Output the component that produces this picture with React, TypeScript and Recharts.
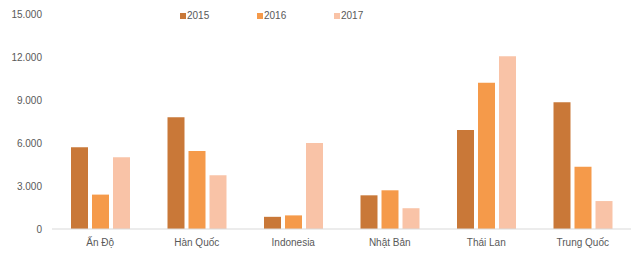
import React from "react";
import { BarChart, Bar, XAxis, YAxis } from "recharts";

const categories = ["Ấn Độ", "Hàn Quốc", "Indonesia", "Nhật Bản", "Thái Lan", "Trung Quốc"];
const values2015 = [5700, 7800, 850, 2350, 6900, 8850];
const values2016 = [2400, 5450, 950, 2700, 10200, 4350];
const values2017 = [5000, 3750, 6000, 1450, 12050, 1950];
const yTicks = [0, 3000, 6000, 9000, 12000, 15000];
const seriesNames = ["2015", "2016", "2017"];
const colors = ["#C97838", "#F59A4A", "#F9C3A7"];

const data = categories.map((c, i) => ({
  name: c,
  "2015": values2015[i],
  "2016": values2016[i],
  "2017": values2017[i],
}));

const fmt = (v: number) => (v === 0 ? "0" : v.toLocaleString("de-DE"));

const LegendContent = () => (
  <div style={{ display: "flex", fontFamily: "'Liberation Sans', Arial, sans-serif", fontSize: 10, color: "#595959" }}>
    {seriesNames.map((s, i) => (
      <div key={s} style={{ display: "flex", alignItems: "center", width: 77 }}>
        <span style={{ display: "inline-block", width: 6, height: 6, background: colors[i], marginRight: 1 }} />
        <span>{s}</span>
      </div>
    ))}
  </div>
);

export default function App() {
  return (
    <div style={{ position: "absolute", left: 0, top: 0, width: 640, height: 261, background: "#fff" }}>
      <BarChart
        width={640}
        height={261}
        data={data}
        margin={{ top: 14, right: 9, bottom: 2, left: 0 }}
        barSize={17}
        barGap={4}
      >
        <XAxis
          dataKey="name"
          axisLine={{ stroke: "#D9D9D9" }}
          tickLine={false}
          tickMargin={4}
          height={30}
          tick={{ fill: "#595959", fontSize: 10, fontFamily: "'Liberation Sans', Arial, sans-serif" }}
        />
        <YAxis
          width={52}
          domain={[0, 15000]}
          ticks={yTicks}
          tickFormatter={fmt}
          axisLine={false}
          tickLine={false}
          tickMargin={4}
          tick={{ fill: "#595959", fontSize: 10, fontFamily: "'Liberation Sans', Arial, sans-serif" }}
        />
        {seriesNames.map((s, i) => (
          <Bar key={s} dataKey={s} fill={colors[i]} isAnimationActive={false} />
        ))}
      </BarChart>
      <div style={{ position: "absolute", left: 180, top: 10 }}>
        <LegendContent />
      </div>
    </div>
  );
}
